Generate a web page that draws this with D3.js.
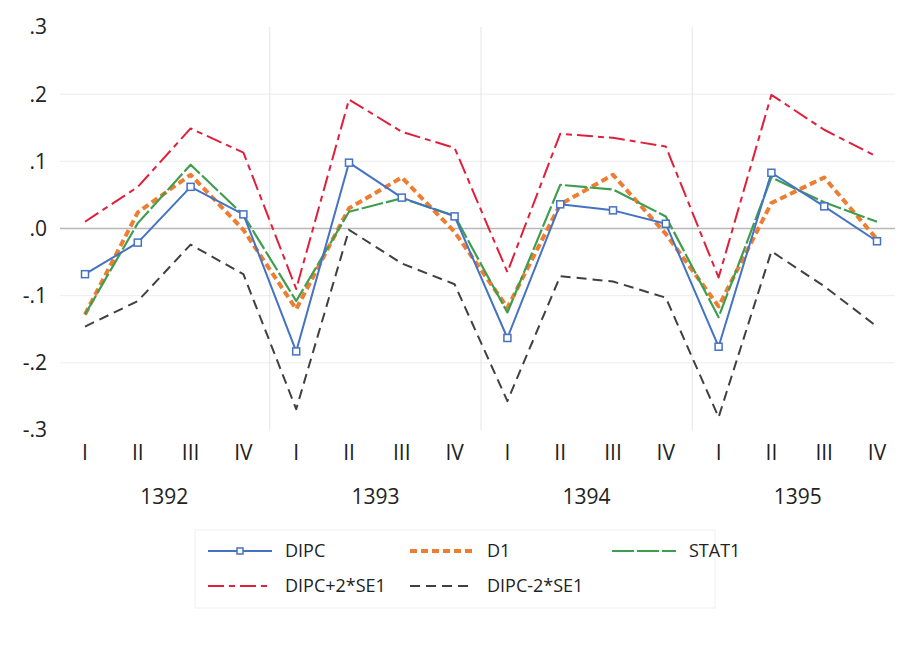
<!DOCTYPE html>
<html>
<head>
<meta charset="utf-8">
<script src="https://cdn.jsdelivr.net/npm/d3@7.9.0/dist/d3.min.js"></script>
<style>
  body { margin: 0; background: #fff; }
  svg text { font-family: "Liberation Sans Narrow", "Open Sans", sans-serif; fill: #222; }
</style>
</head>
<body>
<svg id="chart" width="906" height="645"></svg>
<script>
const quarters = ['I', 'II', 'III', 'IV'];
const years = ['1392', '1393', '1394', '1395'];
const yTicks = [0.3, 0.2, 0.1, 0, -0.1, -0.2, -0.3];
const yTickLabels = ['.3', '.2', '.1', '.0', '-.1', '-.2', '-.3'];

const dipc  = [-0.068, -0.021, 0.062, 0.021, -0.183, 0.098, 0.046, 0.018, -0.163, 0.036, 0.027, 0.007, -0.176, 0.083, 0.033, -0.019];
const d1    = [-0.128, 0.024, 0.080, -0.002, -0.120, 0.030, 0.076, -0.005, -0.118, 0.036, 0.080, -0.008, -0.116, 0.038, 0.076, -0.016];
const stat1 = [-0.128, 0.008, 0.095, 0.020, -0.108, 0.025, 0.045, 0.019, -0.125, 0.065, 0.058, 0.018, -0.132, 0.076, 0.039, 0.010];
const upper = [0.010, 0.062, 0.149, 0.113, -0.090, 0.192, 0.144, 0.120, -0.065, 0.141, 0.135, 0.122, -0.073, 0.199, 0.147, 0.107];
const lower = [-0.146, -0.108, -0.024, -0.068, -0.269, -0.002, -0.052, -0.083, -0.257, -0.071, -0.079, -0.103, -0.281, -0.034, -0.086, -0.146];

const series = [
  { name: 'DIPC', values: dipc, color: '#4472c4', width: 2, dash: null, marker: true },
  { name: 'D1', values: d1, color: '#ed7d31', width: 4, dash: '7,4', marker: false },
  { name: 'STAT1', values: stat1, color: '#3e9e4f', width: 2.2, dash: '22,3', marker: false },
  { name: 'DIPC+2*SE1', values: upper, color: '#e0203a', width: 2, dash: '16,5,6,5', marker: false },
  { name: 'DIPC-2*SE1', values: lower, color: '#404040', width: 2, dash: '10,6', marker: false }
];

const svg = d3.select('#chart');
const idx = d3.range(16);

const x = d3.scalePoint().domain(idx).range([85, 877]);
const y = d3.scaleLinear().domain([-0.3, 0.3]).range([430, 27]);
const step = x.step();

// gridlines
svg.append('g')
  .selectAll('line')
  .data(yTicks.filter((t) => t !== 0 && t !== 0.3 && t !== -0.3))
  .join('line')
  .attr('x1', 60).attr('x2', 895)
  .attr('y1', (d) => y(d)).attr('y2', (d) => y(d))
  .attr('stroke', '#ececec').attr('stroke-width', 1);

svg.append('g')
  .selectAll('line')
  .data([1, 2, 3])
  .join('line')
  .attr('x1', (d) => x(d * 4 - 1) + step / 2)
  .attr('x2', (d) => x(d * 4 - 1) + step / 2)
  .attr('y1', 27).attr('y2', 430)
  .attr('stroke', '#e4e4e4').attr('stroke-width', 1);

svg.append('line')
  .attr('x1', 60).attr('x2', 895)
  .attr('y1', y(0)).attr('y2', y(0))
  .attr('stroke', '#b8b8b8').attr('stroke-width', 1.3);

// y tick labels
svg.append('g')
  .selectAll('text')
  .data(yTicks)
  .join('text')
  .attr('x', 47)
  .attr('y', (d) => y(d))
  .attr('dy', '0.35em')
  .attr('text-anchor', 'end')
  .style('font-size', '21px')
  .text((d, i) => yTickLabels[i]);

// x labels
svg.append('g')
  .selectAll('text')
  .data(idx)
  .join('text')
  .attr('x', (d) => x(d))
  .attr('y', 460)
  .attr('text-anchor', 'middle')
  .style('font-size', '21px')
  .text((d) => quarters[d % 4]);

svg.append('g')
  .selectAll('text')
  .data(years)
  .join('text')
  .attr('x', (d, i) => (x(i * 4) + x(i * 4 + 3)) / 2)
  .attr('y', 504)
  .attr('text-anchor', 'middle')
  .style('font-size', '21px')
  .text((d) => d);

// lines
const line = d3.line().x((d, i) => x(i)).y((d) => y(d));

const drawOrder = [4, 3, 1, 2, 0];
drawOrder.forEach((k) => {
  const s = series[k];
  svg.append('path')
    .datum(s.values)
    .attr('d', line)
    .attr('fill', 'none')
    .attr('stroke', s.color)
    .attr('stroke-width', s.width)
    .attr('stroke-dasharray', s.dash)
    .attr('stroke-linejoin', 'round');
  if (s.marker) {
    svg.append('g')
      .selectAll('rect')
      .data(s.values)
      .join('rect')
      .attr('x', (d, i) => x(i) - 3.5)
      .attr('y', (d) => y(d) - 3.5)
      .attr('width', 7).attr('height', 7)
      .attr('fill', '#fff')
      .attr('stroke', s.color)
      .attr('stroke-width', 1.5);
  }
});

// legend
const legendPos = [
  [208, 551], [410, 551], [612, 551],
  [208, 586], [410, 586]
];
const legend = svg.append('g');
legend.append('rect')
  .attr('x', 195).attr('y', 530)
  .attr('width', 520).attr('height', 78)
  .attr('fill', '#fff').attr('stroke', '#f0f0f0');

series.forEach((s, i) => {
  const [lx, ly] = legendPos[i];
  legend.append('line')
    .attr('x1', lx).attr('x2', lx + 64)
    .attr('y1', ly).attr('y2', ly)
    .attr('stroke', s.color)
    .attr('stroke-width', s.width)
    .attr('stroke-dasharray', s.dash);
  if (s.marker) {
    legend.append('rect')
      .attr('x', lx + 29).attr('y', ly - 3)
      .attr('width', 6).attr('height', 6)
      .attr('fill', '#fff').attr('stroke', s.color).attr('stroke-width', 1.5);
  }
  legend.append('text')
    .attr('x', lx + 77).attr('y', ly)
    .attr('dy', '0.35em')
    .style('font-size', '18px')
    .text(s.name);
});
</script>
</body>
</html>
